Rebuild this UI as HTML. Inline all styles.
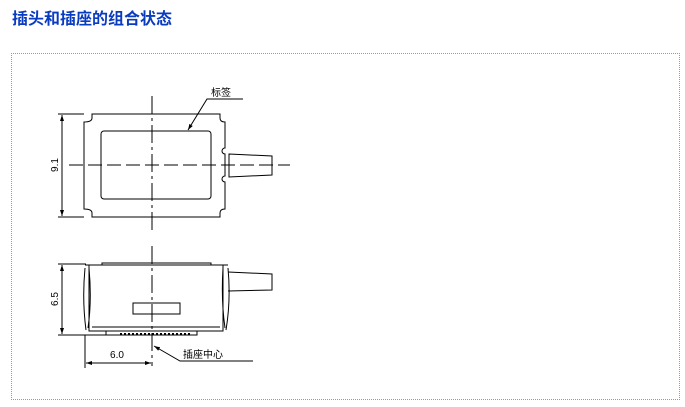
<!DOCTYPE html>
<html><head><meta charset="utf-8"><style>
body{margin:0;background:#fff;width:685px;height:407px;overflow:hidden;position:relative;font-family:"Liberation Sans","Noto Sans CJK SC",sans-serif}
h1{position:absolute;left:12px;top:5px;margin:0;font-size:16px;font-weight:bold;color:#0a3cc0;font-family:"Liberation Sans","Noto Sans CJK SC",sans-serif}
.box{position:absolute;left:11px;top:53px;width:667px;height:345px;border:1px dotted #999}
svg{position:absolute;left:0;top:0}
</style></head><body>
<h1>插头和插座的组合状态</h1>
<div class="box"></div>
<svg width="685" height="407" viewBox="0 0 685 407" fill="none" stroke="#000" stroke-width="1">
<defs><marker id="a" markerUnits="userSpaceOnUse" markerWidth="6" markerHeight="4" refX="6" refY="2" orient="auto-start-reverse"><path d="M0,0 L6,2 L0,4" fill="#000" stroke="none"/></marker></defs>
<!-- top view -->
<path d="M92,114 H220 V118 Q220,122 225,122 V148 A3,3 0 0 0 225,154 V176 A3,3 0 0 0 225,182 V209 Q220,209 220,213 V217 H92 V213 Q92,209 84,209 V122 Q92,122 92,118 Z"/>
<rect x="101" y="131" width="110" height="68" rx="3"/>
<path d="M229,154 L272,156 L272,175 L229,177 Z"/>
<path d="M69,165 H290" stroke-dasharray="14,5"/>
<path d="M152,96 V230" stroke-dasharray="18,4,3,4"/>
<path d="M58,114 H84 M58,217 H84"/>
<path d="M62,115 V216" marker-start="url(#a)" marker-end="url(#a)"/>
<text x="58" y="165" font-size="10" fill="#000" stroke="none" transform="rotate(-90 58 165)" text-anchor="middle">9.1</text>
<text x="211" y="96" font-size="10" fill="#000" stroke="none" font-family="Noto Sans CJK SC,sans-serif">标签</text>
<path d="M243,99 H207 L188,130" marker-end="url(#a)"/>
<!-- bottom view -->
<path d="M102,265 V263 H211 V265"/>
<path d="M85,265 H228"/>
<rect x="89" y="265" width="134" height="66"/>
<path d="M92,327 H220"/>
<path d="M85,268 Q82,300 86,330 M89,268 Q92,300 88,328 M228,268 Q231,300 226,330 M223,268 Q221,300 225,328"/>
<rect x="106" y="331" width="91" height="4"/>
<path d="M120,334 H190" stroke-dasharray="2,2" stroke-width="2"/>
<rect x="133" y="303" width="47" height="11"/>
<path d="M228,272 L272,274 L272,290 L228,291"/>
<path d="M152,246 V366" stroke-dasharray="18,4,3,4"/>
<path d="M58,264 H86 M58,335 H106"/>
<path d="M62,265 V334" marker-start="url(#a)" marker-end="url(#a)"/>
<text x="58" y="299" font-size="10" fill="#000" stroke="none" transform="rotate(-90 58 299)" text-anchor="middle">6.5</text>
<path d="M85,335 V368"/>
<path d="M86,363 H151" marker-start="url(#a)" marker-end="url(#a)"/>
<text x="117" y="358" font-size="10" fill="#000" stroke="none" text-anchor="middle">6.0</text>
<path d="M253,361 H180 L154,346" marker-end="url(#a)"/>
<text x="183" y="358" font-size="10" fill="#000" stroke="none" font-family="Noto Sans CJK SC,sans-serif">插座中心</text>
</svg>
</body></html>
